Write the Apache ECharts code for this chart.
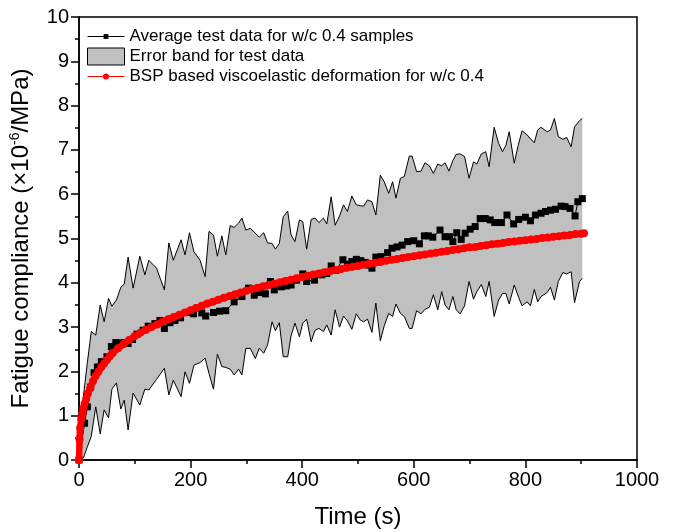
<!DOCTYPE html>
<html><head><meta charset="utf-8">
<script src="https://cdn.jsdelivr.net/npm/echarts/dist/echarts.min.js"></script>
<style>html,body{margin:0;padding:0;background:#fff}#c{width:673px;height:532px}</style>
</head><body><div id="c"></div>
<script>
const FONT = '"Liberation Sans", Arial, sans-serif';

const bandTime = [0,8,15,22,30,38,45,53,59,67,75,81,88,97,109,118,125,139,153,161,169,183,190,198,206,217,226,233,241,248,256,263,271,278,286,292,299,307,316,323,331,338,346,352,359,366,374,380,387,395,401,408,416,423,430,438,444,452,459,467,474,481,489,497,504,510,517,525,532,540,547,555,562,568,576,583,592,597,605,613,620,628,635,643,650,656,663,670,676,683,691,699,707,713,721,729,735,744,752,759,765,771,780,787,794,803,809,816,822,828,839,845,852,859,867,874,882,888,897,902];
const bandUpper = [0,1.45,2.2,2.9,2.82,3.5,3.12,3.65,3.47,3.61,3.9,3.97,4.58,3.88,4.6,4.18,4.51,4.33,3.84,4.9,4.51,4.97,4.63,5.13,4.7,4.51,4.14,5.16,5.08,4.6,5.06,4.63,5.29,5.25,5.35,5.46,5.19,5.23,5.12,5.03,5.13,4.9,4.89,4.76,4.89,5.49,5.62,5.08,4.93,5.42,5.38,4.76,5.43,5.46,5.36,5.46,5.33,5.94,5.3,5.51,5.76,5.61,5.96,5.76,5.74,5.73,5.87,5.83,5.53,6.43,6.28,6.02,6.28,5.91,6.36,6.4,6.86,6.86,6.51,6.52,6.71,6.64,6.47,6.68,6.64,6.71,6.52,6.76,6.9,6.91,6.85,6.36,6.73,6.68,6.91,6.96,6.62,7.51,7.15,6.96,7.1,7.41,6.7,7.1,7.43,7.34,7.25,7.16,7.45,7.51,7.41,7.45,7.71,7.3,7.24,7.28,7.07,7.52,7.66,7.71];
const bandLower = [0,0.05,0.3,0.53,1.2,0.59,1.13,0.95,1.6,1.74,1.15,1.35,0.68,1.51,1.24,1.6,1.58,1.82,2.07,1.47,1.8,1.43,1.99,1.73,2.14,2.2,2.3,1.95,1.6,2.39,2.11,2.09,2.05,1.92,2.05,1.92,2.52,2.52,2.29,2.52,2.41,2.6,3.12,2.92,3.1,2.33,2.33,2.8,3.09,2.78,3.09,3.18,2.67,2.93,2.97,2.9,3.05,2.82,3.39,3.0,3.25,3.14,2.95,3.3,3.16,3.12,3.18,2.88,3.54,2.69,3.03,3.31,3.24,3.52,3.31,3.24,2.97,2.97,3.37,3.3,3.4,3.45,3.73,3.39,3.8,3.5,3.39,3.69,3.39,3.3,3.48,4.03,3.63,3.8,3.96,3.69,4.03,3.24,3.61,3.76,3.76,3.52,3.95,3.7,3.48,3.57,3.48,3.85,3.57,3.69,3.78,3.9,3.61,4.03,4.23,4.2,4.25,3.55,4.03,4.1];

const meanTime = [0,10,15,21,27,33,40,50,58,66,74,81,88,96,104,115,124,136,145,153,163,172,182,196,205,212,220,227,241,252,263,278,292,304,314,325,334,343,350,363,372,380,390,401,408,422,435,444,452,460,473,481,489,497,505,513,519,525,532,541,553,561,570,579,589,600,610,619,626,634,647,656,664,670,677,685,692,701,710,719,728,737,745,757,767,779,788,800,809,818,828,836,845,854,864,871,880,889,894,902];
const meanValue = [0,0.83,1.2,1.65,1.97,2.1,2.22,2.33,2.56,2.65,2.64,2.65,2.63,2.72,2.84,2.93,3.02,3.08,3.15,2.97,3.1,3.15,3.21,3.33,3.3,3.43,3.32,3.25,3.33,3.36,3.37,3.57,3.69,3.88,3.72,3.78,3.75,4.03,3.84,3.91,3.93,3.95,4.06,4.2,4.03,4.06,4.18,4.21,4.38,4.28,4.52,4.42,4.48,4.53,4.5,4.46,4.4,4.33,4.58,4.59,4.68,4.78,4.81,4.85,4.93,4.95,4.88,5.06,5.06,5.03,5.19,5.04,5.04,4.93,5.13,4.98,5.12,5.21,5.27,5.45,5.45,5.42,5.36,5.36,5.53,5.33,5.43,5.48,5.4,5.53,5.57,5.61,5.64,5.66,5.73,5.72,5.68,5.51,5.83,5.9];

const bspTime = [0,1,2,4,6,8,10,13,16,20,25,30,35,40,45,50,55,60,70,80,90,100,110,120,130,140,150,160,170,180,190,200,210,220,230,240,250,260,270,280,290,300,310,320,330,340,350,360,370,380,390,400,410,420,430,440,450,460,470,480,490,500,510,520,530,540,550,560,570,580,590,600,610,620,630,640,650,660,670,680,690,700,710,720,730,740,750,760,770,780,790,800,810,820,830,840,850,860,870,880,890,900,905];
const bspValue = [0,0.47,0.72,0.92,1.05,1.17,1.27,1.38,1.5,1.62,1.78,1.9,2.0,2.1,2.18,2.26,2.34,2.41,2.52,2.62,2.71,2.8,2.87,2.94,3.0,3.06,3.12,3.18,3.23,3.28,3.33,3.38,3.43,3.48,3.53,3.57,3.62,3.66,3.7,3.74,3.78,3.82,3.86,3.89,3.92,3.95,3.98,4.01,4.04,4.07,4.1,4.13,4.16,4.19,4.21,4.24,4.26,4.29,4.31,4.34,4.36,4.38,4.41,4.43,4.45,4.47,4.5,4.52,4.54,4.56,4.58,4.6,4.62,4.64,4.66,4.68,4.7,4.72,4.74,4.76,4.78,4.8,4.81,4.83,4.85,4.87,4.88,4.9,4.92,4.93,4.95,4.96,4.98,4.99,5.01,5.02,5.04,5.05,5.07,5.08,5.1,5.11,5.12];

const xMin = 0, xMax = 1000, xStep = 200;
const yMin = 0, yMax = 10, yStep = 1;

const NAME_MEAN = 'Average test data for w/c 0.4 samples';
const NAME_BAND = 'Error band for test data';
const NAME_BSP = 'BSP based viscoelastic deformation for w/c 0.4';

const zip = (a, b) => a.map((t, i) => [t, b[i]]);

const chart = echarts.init(document.getElementById('c'), null, {renderer: 'canvas'});

const axisCommon = {
  axisLine: {show: true, onZero: false, lineStyle: {color: '#000', width: 1.5}},
  axisTick: {show: true, inside: false, length: 8, lineStyle: {color: '#000', width: 1.5}},
  minorTick: {show: true, splitNumber: 2, length: 4, lineStyle: {color: '#000', width: 1.5}},
  splitLine: {show: false},
  minorSplitLine: {show: false},
  axisLabel: {color: '#000', fontSize: 20, fontFamily: FONT, margin: 10, formatter: v => String(v)},
  nameTextStyle: {color: '#000', fontSize: 24, fontFamily: FONT}
};

const legendBase = {
  orient: 'vertical', left: 87, padding: 0, itemWidth: 37, itemGap: 0,
  textStyle: {color: '#000', fontSize: 17, fontFamily: FONT},
  lineStyle: {width: 1}, selectedMode: false
};

chart.setOption({
  animation: false,
  backgroundColor: '#fff',
  grid: {left: 79, right: 36, top: 17, bottom: 72, containLabel: false, outerBoundsMode: 'none',
         show: true, borderColor: '#000', borderWidth: 1.5, backgroundColor: 'transparent'},
  legend: [
    Object.assign({}, legendBase, {top: 28, itemHeight: 6, data: [NAME_MEAN]}),
    Object.assign({}, legendBase, {top: 47.5, itemHeight: 17,
      data: [{name: NAME_BAND, icon: 'rect', itemStyle: {color: '#c0c0c0', borderColor: '#000', borderWidth: 1}}]}),
    Object.assign({}, legendBase, {top: 68, itemHeight: 7.5, data: [NAME_BSP]})
  ],
  xAxis: Object.assign({}, axisCommon, {
    type: 'value', min: xMin, max: xMax, interval: xStep,
    name: 'Time (s)', nameLocation: 'middle', nameGap: 45
  }),
  yAxis: Object.assign({}, axisCommon, {
    type: 'value', min: yMin, max: yMax, interval: yStep,
    name: 'Fatigue compliance (×10{s|-6}/MPa)', nameLocation: 'middle', nameGap: 40,
    nameTextStyle: {color: '#000', fontSize: 24, fontFamily: FONT, lineHeight: 28,
      rich: {s: {fontSize: 14, fontFamily: FONT, color: '#000', verticalAlign: 'top', lineHeight: 14}}}
  }),
  series: [
    {
      type: 'custom', name: NAME_BAND, z: 1, silent: true,
      itemStyle: {color: '#c0c0c0', borderColor: '#000', borderWidth: 1},
      data: [[bandTime[0], bandLower[0]]],
      encode: {x: 0, y: 1},
      clip: true,
      renderItem: function (params, api) {
        const pts = [];
        for (let i = 0; i < bandTime.length; i++) pts.push(api.coord([bandTime[i], bandUpper[i]]));
        for (let i = bandTime.length - 1; i >= 0; i--) pts.push(api.coord([bandTime[i], bandLower[i]]));
        return {type: 'polygon', shape: {points: pts}, style: {fill: '#c0c0c0', stroke: null}};
      }
    },
    {
      type: 'line', name: 'upper', z: 2, silent: true, symbol: 'none',
      data: zip(bandTime, bandUpper), lineStyle: {color: '#000', width: 1}
    },
    {
      type: 'line', name: 'lower', z: 2, silent: true, symbol: 'none',
      data: zip(bandTime, bandLower), lineStyle: {color: '#000', width: 1}
    },
    {
      type: 'line', name: NAME_MEAN, z: 3, symbol: 'rect', symbolSize: 7,
      itemStyle: {color: '#000'}, lineStyle: {color: '#000', width: 1},
      data: zip(meanTime, meanValue)
    },
    {
      type: 'line', name: NAME_BSP, z: 4, symbol: 'circle', symbolSize: 8, clip: false,
      itemStyle: {color: '#ff0000'}, lineStyle: {color: '#ff0000', width: 6.5},
      data: zip(bspTime, bspValue)
    }
  ]
});
</script>
</body></html>
